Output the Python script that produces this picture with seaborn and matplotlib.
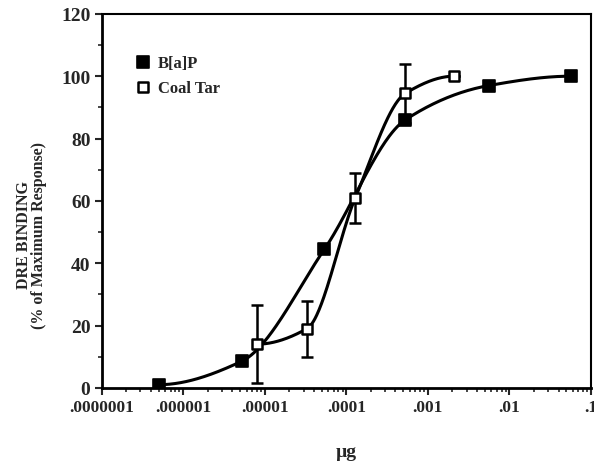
import numpy as np
import pandas as pd
import matplotlib
matplotlib.use("Agg")
import matplotlib.pyplot as plt
from matplotlib.ticker import FixedLocator, FixedFormatter, LogLocator, NullFormatter, MultipleLocator
import seaborn as sns

# ---- data ----
bap_x = [5.0e-7, 5.2e-6, 5.4e-5, 5.3e-4, 5.6e-3, 5.7e-2]
bap_y = [1.0, 8.5, 44.5, 86.0, 97.0, 100.0]

coal_x = [8.0e-6, 3.3e-5, 1.29e-4, 5.3e-4, 2.1e-3]
coal_y = [14.0, 19.0, 61.0, 94.5, 100.0]
coal_err = [12.5, 9.0, 8.0, 9.5, 0.0]

xtick_vals = [1e-7, 1e-6, 1e-5, 1e-4, 1e-3, 1e-2, 1e-1]
xtick_labels = [".0000001", ".000001", ".00001", ".0001", ".001", ".01", ".1"]
ytick_vals = [0, 20, 40, 60, 80, 100, 120]


def smooth(xs, ys, n=60):
    """Monotone cubic (PCHIP) curve through the points in log10(x) space."""
    x = np.log10(np.asarray(xs, float))
    y = np.asarray(ys, float)
    h = np.diff(x)
    d = np.diff(y) / h
    m = np.zeros_like(y)
    for k in range(1, len(x) - 1):
        if d[k - 1] * d[k] <= 0:
            m[k] = 0.0
        else:
            w1 = 2 * h[k] + h[k - 1]
            w2 = h[k] + 2 * h[k - 1]
            m[k] = (w1 + w2) / (w1 / d[k - 1] + w2 / d[k])

    def end(h0, h1, d0, d1):
        s = ((2 * h0 + h1) * d0 - h0 * d1) / (h0 + h1)
        if np.sign(s) != np.sign(d0):
            s = 0.0
        elif np.sign(d0) != np.sign(d1) and abs(s) > abs(3 * d0):
            s = 3 * d0
        return s

    m[0] = end(h[0], h[1], d[0], d[1])
    m[-1] = end(h[-1], h[-2], d[-1], d[-2])
    X, Y = [], []
    for k in range(len(x) - 1):
        t = np.linspace(0, 1, n, endpoint=(k == len(x) - 2))
        h00 = 2 * t ** 3 - 3 * t ** 2 + 1
        h10 = t ** 3 - 2 * t ** 2 + t
        h01 = -2 * t ** 3 + 3 * t ** 2
        h11 = t ** 3 - t ** 2
        X.append(x[k] + t * h[k])
        Y.append(h00 * y[k] + h10 * h[k] * m[k] + h01 * y[k + 1] + h11 * h[k] * m[k + 1])
    return 10 ** np.concatenate(X), np.concatenate(Y)


sns.set_theme(style="white")
plt.rcParams["font.family"] = ["Liberation Serif", "DejaVu Serif"]
plt.rcParams["font.weight"] = "bold"

fig = plt.figure(figsize=(5.94, 4.64), dpi=100)
ax = fig.add_axes([0.171, 0.162, 0.824, 0.806])

bx, by = smooth(bap_x, bap_y)
cx, cy = smooth(coal_x, coal_y)
curves = pd.concat([
    pd.DataFrame({"x": bx, "y": by, "s": "B[a]P"}),
    pd.DataFrame({"x": cx, "y": cy, "s": "Coal Tar"}),
])
sns.lineplot(data=curves, x="x", y="y", hue="s", units="s", estimator=None, sort=False,
             palette={"B[a]P": "black", "Coal Tar": "black"}, linewidth=2.2,
             legend=False, ax=ax, zorder=2)

ax.errorbar(coal_x, coal_y, yerr=coal_err, fmt="none", ecolor="black",
            elinewidth=1.8, capsize=4, capthick=1.8, zorder=3)

sns.scatterplot(x=bap_x, y=bap_y, marker="s", s=70, color="black",
                edgecolor="black", linewidth=1.2, ax=ax, zorder=4, label="B[a]P")
sns.scatterplot(x=coal_x, y=coal_y, marker="s", s=60, color="white",
                edgecolor="black", linewidth=1.8, ax=ax, zorder=5, label="Coal Tar")

ax.set_xscale("log")
ax.set_xlim(1e-7, 1e-1)
ax.set_ylim(0, 120)

ax.xaxis.set_major_locator(FixedLocator(xtick_vals))
ax.xaxis.set_major_formatter(FixedFormatter(xtick_labels))
ax.xaxis.set_minor_locator(LogLocator(base=10, subs=np.arange(2, 10), numticks=20))
ax.xaxis.set_minor_formatter(NullFormatter())
ax.yaxis.set_major_locator(FixedLocator(ytick_vals))
ax.yaxis.set_minor_locator(MultipleLocator(10))

ax.tick_params(axis="both", which="major", direction="out", length=5, width=1.5,
               pad=3, bottom=True, left=True)
ax.tick_params(axis="x", which="major", labelsize=12.5)
ax.tick_params(axis="y", which="major", labelsize=14)
ax.tick_params(axis="both", which="minor", direction="out", length=3, width=1.2,
               bottom=True, left=True)
for lab in ax.get_xticklabels() + ax.get_yticklabels():
    lab.set_fontweight("bold")

for side in ["left", "bottom", "top", "right"]:
    ax.spines[side].set_color("black")
    ax.spines[side].set_linewidth(2.0 if side in ("left", "bottom") else 1.5)

ax.set_xlabel("µg", fontsize=14, fontweight="bold", labelpad=20)
ax.set_ylabel("DRE BINDING\n(% of Maximum Response)", fontsize=11.5,
              fontweight="bold", linespacing=0.95)
ax.yaxis.set_label_coords(-0.111, 0.41)

leg = ax.legend(loc="upper left", bbox_to_anchor=(0.053, 0.909), frameon=False,
                prop={"weight": "bold", "size": 12}, handlelength=1.0,
                handletextpad=0.4, labelspacing=0.55, borderaxespad=0.0)

fig.savefig("out.png", dpi=100)
